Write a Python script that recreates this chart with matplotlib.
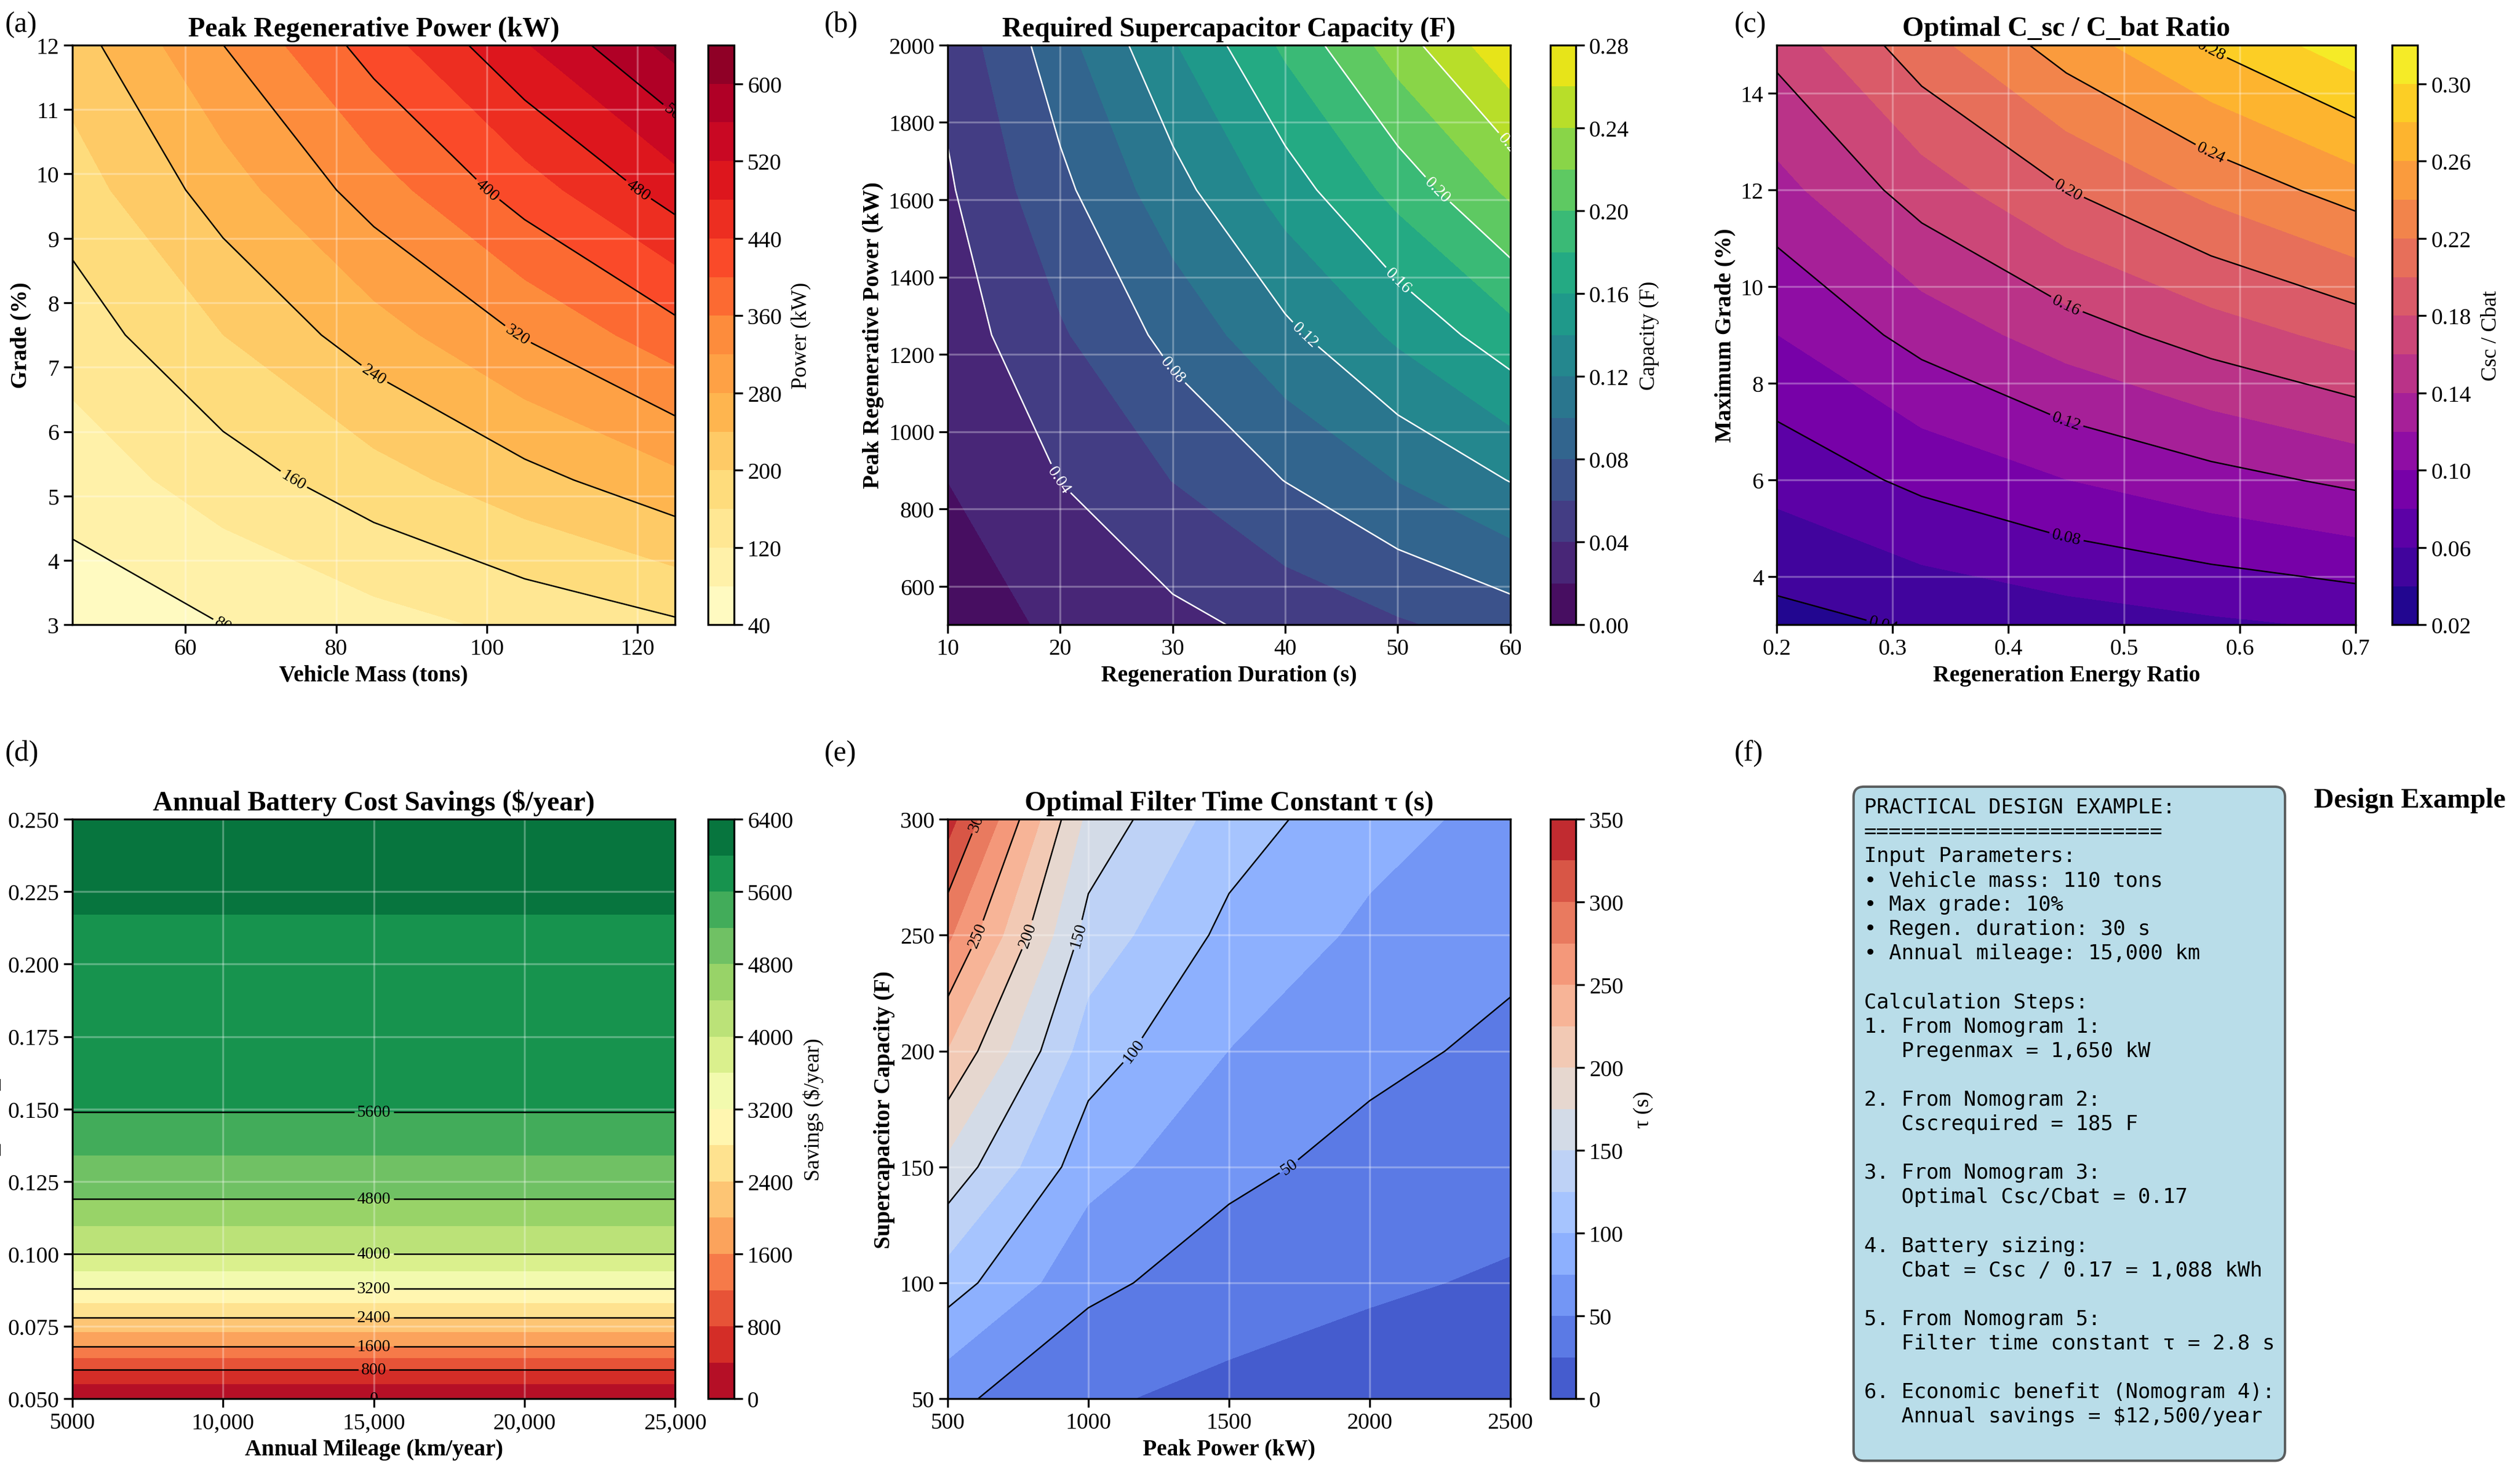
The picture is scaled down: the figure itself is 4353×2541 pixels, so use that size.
import numpy as np
import matplotlib
matplotlib.use("Agg")
import matplotlib.pyplot as plt

plt.rcParams['font.family'] = ['Liberation Serif', 'DejaVu Serif']
plt.rcParams['mathtext.fontset'] = 'stix'

# (a) Peak regenerative power
mass_a = [45, 65, 85, 105, 125]
grade_a = [3, 5.25, 7.5, 9.75, 12]
power_a = [[55.4, 80.0, 104.6, 129.2, 153.8],
           [96.9, 139.9, 183.0, 226.0, 269.1],
           [138.4, 199.9, 261.4, 322.9, 384.4],
           [179.9, 259.8, 339.8, 419.7, 499.7],
           [221.4, 319.8, 418.2, 516.6, 615.0]]
# (b) Required supercapacitor capacity
dur_b = [10, 20, 30, 40, 50, 60]
pow_b = [500, 875, 1250, 1625, 2000]
cap_b = [[.0115, .023, .0345, .046, .0575, .069],
         [.0201, .0403, .0604, .0805, .1006, .1208],
         [.0288, .0575, .0863, .115, .1438, .1725],
         [.0374, .0748, .1121, .1495, .1869, .2243],
         [.046, .092, .138, .184, .23, .276]]
# (c) Optimal ratio
ratio_c = [0.2, 0.325, 0.45, 0.575, 0.7]
grade_c = [3, 6, 9, 12, 15]
opt_c = [[.0333, .0424, .0499, .0564, .0623],
         [.0665, .0848, .0998, .1128, .1245],
         [.0998, .1272, .1498, .1692, .1868],
         [.1330, .1696, .1997, .2256, .2491],
         [.1663, .2120, .2496, .2820, .3114]]
# (d) Savings
mileage_d = [5000, 25000]
csr_d = [0.05, 0.06, 0.068, 0.078, 0.088, 0.1, 0.119, 0.149, 0.217, 0.25]
sav_d = [0, 800, 1600, 2400, 3200, 4000, 4800, 5600, 6000, 6100]
# (e) Filter time constant
ppow_e = [500, 1000, 1500, 2000, 2500]
cap_e = [50, 100, 150, 200, 250, 300]
tau_e = [[56, 28, 18.7, 14, 11.2],
         [112, 56, 37.3, 28, 22.4],
         [168, 84, 56, 42, 33.6],
         [224, 112, 74.7, 56, 44.8],
         [280, 140, 93.3, 70, 56],
         [336, 168, 112, 84, 67.2]]

fig = plt.figure(figsize=(14.513, 8.473), dpi=300)
H = .394
axa = fig.add_axes([.0287, .575, .2392, H]); ca = fig.add_axes([.281, .575, .0102, H])
axb = fig.add_axes([.376, .575, .2232, H]); cb = fig.add_axes([.615, .575, .0102, H])
axc = fig.add_axes([.705, .575, .2296, H]); cc = fig.add_axes([.949, .575, .0102, H])
axd = fig.add_axes([.0287, .049, .2392, H]); cd = fig.add_axes([.281, .049, .0102, H])
axe = fig.add_axes([.376, .049, .2232, H]); ce = fig.add_axes([.615, .049, .0102, H])

tfs, lfs, kfs = 11.5, 9.5, 9.5

def finish(ax, cax, cf, title, xl, yl, cl, ticks):
    ax.set_title(title, fontsize=tfs, fontweight='bold', pad=4)
    ax.set_xlabel(xl, fontsize=lfs, fontweight='bold', labelpad=2)
    ax.set_ylabel(yl, fontsize=lfs, fontweight='bold', labelpad=2)
    ax.tick_params(labelsize=kfs, pad=2)
    ax.grid(True, color='white', alpha=0.3, lw=0.8)
    cbar = fig.colorbar(cf, cax=cax, ticks=ticks)
    cbar.set_label(cl, fontsize=9)
    cbar.ax.tick_params(labelsize=kfs, pad=2)

# (a)
cf = axa.contourf(mass_a, grade_a, power_a, levels=np.arange(40, 641, 40), cmap='YlOrRd')
cs = axa.contour(mass_a, grade_a, power_a, levels=np.arange(80, 641, 80), colors='k', linewidths=0.6)
axa.clabel(cs, fontsize=7, fmt='%d')
finish(axa, ca, cf, 'Peak Regenerative Power (kW)', 'Vehicle Mass (tons)', 'Grade (%)', 'Power (kW)', np.arange(40, 641, 80))
axa.set_xticks([60, 80, 100, 120])

# (b)
cf = axb.contourf(dur_b, pow_b, cap_b, levels=np.arange(0, 0.281, 0.02), cmap='viridis')
cs = axb.contour(dur_b, pow_b, cap_b, levels=np.arange(0.04, 0.28, 0.04), colors='white', linewidths=0.6)
axb.clabel(cs, fontsize=7, fmt='%.2f')
finish(axb, cb, cf, 'Required Supercapacitor Capacity (F)', 'Regeneration Duration (s)', 'Peak Regenerative Power (kW)', 'Capacity (F)', np.arange(0, 0.281, 0.04))

# (c)
cf = axc.contourf(ratio_c, grade_c, opt_c, levels=np.arange(0.02, 0.321, 0.02), cmap='plasma')
cs = axc.contour(ratio_c, grade_c, opt_c, levels=np.arange(0.04, 0.32, 0.04), colors='k', linewidths=0.6)
axc.clabel(cs, fontsize=7, fmt='%.2f')
finish(axc, cc, cf, 'Optimal C_sc / C_bat Ratio', 'Regeneration Energy Ratio', 'Maximum Grade (%)', 'Csc / Cbat', np.arange(0.02, 0.321, 0.04))

# (d)
Zd = np.array([[s, s] for s in sav_d])
cf = axd.contourf(mileage_d, csr_d, Zd, levels=np.arange(0, 6401, 400), cmap='RdYlGn')
cs = axd.contour(mileage_d, csr_d, Zd, levels=np.arange(0, 6401, 800), colors='k', linewidths=0.6)
pos = [(15000, np.interp(v, sav_d, csr_d)) for v in cs.levels if v <= 5600]
axd.clabel(cs, fontsize=7, fmt='%d', manual=pos)
finish(axd, cd, cf, 'Annual Battery Cost Savings ($/year)', 'Annual Mileage (km/year)', 'C_sc / C_bat', 'Savings ($/year)', np.arange(0, 6401, 800))
axd.set_xticks([5000, 10000, 15000, 20000, 25000])
axd.set_xticklabels(['5000', '10,000', '15,000', '20,000', '25,000'])
axd.set_yticks(np.arange(0.05, 0.251, 0.025))
axd.set_yticklabels(['%.3f' % v for v in np.arange(0.05, 0.251, 0.025)])

# (e)
cf = axe.contourf(ppow_e, cap_e, tau_e, levels=np.arange(0, 351, 25), cmap='coolwarm')
cs = axe.contour(ppow_e, cap_e, tau_e, levels=np.arange(50, 351, 50), colors='k', linewidths=0.6)
axe.clabel(cs, fontsize=7, fmt='%d')
finish(axe, ce, cf, 'Optimal Filter Time Constant τ (s)', 'Peak Power (kW)', 'Supercapacitor Capacity (F)', 'τ (s)', np.arange(0, 351, 50))
axe.set_xticks([500, 1000, 1500, 2000, 2500])

# (f)
txt = ("PRACTICAL DESIGN EXAMPLE:\n"
       "========================\n"
       "Input Parameters:\n"
       "• Vehicle mass: 110 tons\n"
       "• Max grade: 10%\n"
       "• Regen. duration: 30 s\n"
       "• Annual mileage: 15,000 km\n\n"
       "Calculation Steps:\n"
       "1. From Nomogram 1:\n"
       "   Pregenmax = 1,650 kW\n\n"
       "2. From Nomogram 2:\n"
       "   Cscrequired = 185 F\n\n"
       "3. From Nomogram 3:\n"
       "   Optimal Csc/Cbat = 0.17\n\n"
       "4. Battery sizing:\n"
       "   Cbat = Csc / 0.17 = 1,088 kWh\n\n"
       "5. From Nomogram 5:\n"
       "   Filter time constant τ = 2.8 s\n\n"
       "6. Economic benefit (Nomogram 4):\n"
       "   Annual savings = $12,500/year\n")
fig.text(0.7395, 0.458, txt, family='DejaVu Sans Mono', fontsize=8.6,
         va='top', ha='left', linespacing=1.3,
         bbox=dict(boxstyle='round,pad=0.5', facecolor='lightblue', edgecolor='#444444', alpha=0.85))
fig.text(0.918, 0.456, 'Design Example', fontsize=tfs, fontweight='bold', ha='left', va='center')

for lab, x, y in [('(a)', .002, .983), ('(b)', .327, .983), ('(c)', .688, .983),
                  ('(d)', .002, .488), ('(e)', .327, .488), ('(f)', .688, .488)]:
    fig.text(x, y, lab, fontsize=12, ha='left', va='center')

fig.savefig('out.png', dpi=300)
